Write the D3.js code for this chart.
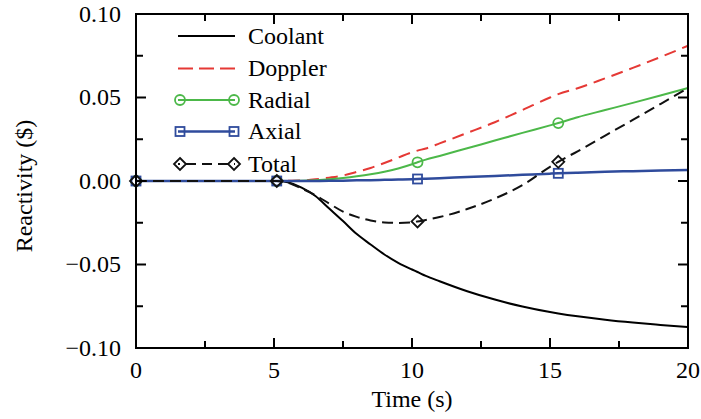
<!DOCTYPE html>
<html>
<head>
<meta charset="utf-8">
<script src="https://cdn.jsdelivr.net/npm/d3@7"></script>
<style>
  body { margin: 0; background: #fff; }
  svg text { font-family: "Liberation Serif", "Times New Roman", serif; fill: #000; }
</style>
</head>
<body>
<div id="chart"></div>
<script>
// Data
const time = [0, 1, 2, 3, 4, 5, 5.1, 5.5, 6, 6.5, 7, 7.5, 8, 8.5, 9, 9.5, 10, 10.2, 10.5, 11, 12, 13, 14, 15, 15.3, 16, 17, 18, 19, 20];
const coolant = [0, 0, 0, 0, 0, 0, 0, -0.0008, -0.004, -0.009, -0.0165, -0.024, -0.0318, -0.038, -0.044, -0.049, -0.053, -0.0545, -0.0568, -0.060, -0.066, -0.071, -0.0752, -0.0785, -0.0793, -0.081, -0.0831, -0.0848, -0.0862, -0.0875];
const doppler = [0, 0, 0, 0, 0, 0, 0, 0.0001, 0.0003, 0.001, 0.002, 0.0033, 0.0055, 0.0078, 0.0108, 0.014, 0.0172, 0.0182, 0.0195, 0.0225, 0.0288, 0.0352, 0.0425, 0.050, 0.052, 0.0555, 0.0615, 0.0677, 0.0742, 0.081];
const radial = [0, 0, 0, 0, 0, 0, 0, 0, 0.0002, 0.0005, 0.001, 0.0018, 0.0028, 0.004, 0.0055, 0.0075, 0.010, 0.0112, 0.0128, 0.015, 0.0196, 0.0242, 0.0288, 0.0333, 0.0347, 0.0382, 0.0425, 0.0468, 0.0512, 0.0557];
const axial = [0, 0, 0, 0, 0, 0, 0, 0, 0, 0.00005, 0.0001, 0.0002, 0.0004, 0.0005, 0.0007, 0.0009, 0.0011, 0.0012, 0.0014, 0.0017, 0.0024, 0.003, 0.0037, 0.0044, 0.0046, 0.005, 0.0055, 0.0059, 0.0063, 0.0066];
const total = [0, 0, 0, 0, 0, 0, 0, -0.001, -0.0045, -0.0085, -0.0135, -0.0183, -0.0215, -0.0236, -0.0248, -0.0251, -0.0247, -0.0242, -0.0233, -0.0216, -0.0168, -0.0105, -0.0025, 0.0085, 0.0115, 0.0178, 0.0272, 0.0366, 0.0461, 0.0557];
const markerTimes = [0, 5.1, 10.2, 15.3];

const seriesNames = ["Coolant", "Doppler", "Radial", "Axial", "Total"];
const seriesValues = [coolant, doppler, radial, axial, total];

const xTicks = [0, 5, 10, 15, 20];
const xMinor = [2.5, 7.5, 12.5, 17.5];
const yTicks = [-0.10, -0.05, 0.00, 0.05, 0.10];
const yMinor = [-0.075, -0.025, 0.025, 0.075];

// Styles
const styles = {
    Coolant: { color: "#000", width: 2, dash: null, marker: null },
    Doppler: { color: "#e53935", width: 2, dash: "12,7", marker: null },
    Radial: { color: "#4cb849", width: 2, dash: null, marker: "circle" },
    Axial: { color: "#2f4b9c", width: 2.5, dash: null, marker: "square" },
    Total: { color: "#111", width: 2, dash: "11,6", marker: "diamond" }
};

const W = 701, H = 419;
const plot = { left: 136, right: 688, top: 14, bottom: 348 };

const svg = d3.select("#chart")
    .append("svg")
    .attr("width", W)
    .attr("height", H);

const x = d3.scaleLinear().domain([0, 20]).range([plot.left, plot.right]);
const y = d3.scaleLinear().domain([-0.1, 0.1]).range([plot.bottom, plot.top]);

// Lines
const line = d3.line()
    .x(d => x(d.t))
    .y(d => y(d.v))
    .curve(d3.curveMonotoneX);

function drawMarker(g, type, cx, cy, color) {
    if (type === "circle") {
        g.append("circle").attr("cx", cx).attr("cy", cy).attr("r", 5)
            .attr("fill", "none").attr("stroke", color).attr("stroke-width", 1.8);
    } else if (type === "square") {
        g.append("rect").attr("x", cx - 4.5).attr("y", cy - 4.5).attr("width", 9).attr("height", 9)
            .attr("fill", "none").attr("stroke", color).attr("stroke-width", 1.8);
    } else if (type === "diamond") {
        g.append("path").attr("d", `M${cx},${cy - 6}L${cx + 6},${cy}L${cx},${cy + 6}L${cx - 6},${cy}Z`)
            .attr("fill", "none").attr("stroke", color).attr("stroke-width", 1.8);
    }
}

seriesNames.forEach((name, i) => {
    const st = styles[name];
    const pts = time.map((t, j) => ({ t: t, v: seriesValues[i][j] }));
    const g = svg.append("g").attr("class", "series");
    g.append("path")
        .datum(pts)
        .attr("d", line)
        .attr("fill", "none")
        .attr("stroke", st.color)
        .attr("stroke-width", st.width)
        .attr("stroke-dasharray", st.dash);
    if (st.marker) {
        pts.filter(d => markerTimes.includes(d.t))
            .forEach(d => drawMarker(g, st.marker, x(d.t), y(d.v), st.color));
    }
});

// Frame and ticks
const axes = svg.append("g").attr("class", "axes");
axes.append("rect")
    .attr("x", plot.left).attr("y", plot.top)
    .attr("width", plot.right - plot.left).attr("height", plot.bottom - plot.top)
    .attr("fill", "none").attr("stroke", "#000").attr("stroke-width", 2);

const major = 10, minor = 7;
[[xTicks, major], [xMinor, minor]].forEach(([ticks, len]) => {
    ticks.forEach(t => {
        axes.append("line").attr("x1", x(t)).attr("x2", x(t)).attr("y1", plot.bottom).attr("y2", plot.bottom - len)
            .attr("stroke", "#000").attr("stroke-width", 2);
        axes.append("line").attr("x1", x(t)).attr("x2", x(t)).attr("y1", plot.top).attr("y2", plot.top + len)
            .attr("stroke", "#000").attr("stroke-width", 2);
    });
});
[[yTicks, major], [yMinor, minor]].forEach(([ticks, len]) => {
    ticks.forEach(t => {
        axes.append("line").attr("x1", plot.left).attr("x2", plot.left + len).attr("y1", y(t)).attr("y2", y(t))
            .attr("stroke", "#000").attr("stroke-width", 2);
        axes.append("line").attr("x1", plot.right).attr("x2", plot.right - len).attr("y1", y(t)).attr("y2", y(t))
            .attr("stroke", "#000").attr("stroke-width", 2);
    });
});

// Tick labels
svg.selectAll(".xlab")
    .data(xTicks)
    .enter()
    .append("text")
    .attr("x", d => x(d))
    .attr("y", 378)
    .attr("text-anchor", "middle")
    .style("font-size", "24px")
    .text(d => d);

svg.selectAll(".ylab")
    .data(yTicks)
    .enter()
    .append("text")
    .attr("x", 121)
    .attr("y", d => y(d))
    .attr("dy", "0.33em")
    .attr("text-anchor", "end")
    .style("font-size", "24px")
    .text(d => d3.format(".2f")(d));

// Axis titles
svg.append("text")
    .attr("x", x(10))
    .attr("y", 407)
    .attr("text-anchor", "middle")
    .style("font-size", "24px")
    .text("Time (s)");

svg.append("text")
    .attr("transform", `translate(32, ${(plot.top + plot.bottom) / 2 + 5}) rotate(-90)`)
    .attr("text-anchor", "middle")
    .style("font-size", "24px")
    .text("Reactivity ($)");

// Legend
const legend = svg.append("g").attr("class", "legend");
const legendRowY = [36, 68.5, 100, 131.5, 164];
seriesNames.forEach((name, i) => {
    const st = styles[name];
    const ly = legendRowY[i];
    legend.append("line")
        .attr("x1", 178).attr("x2", 235).attr("y1", ly).attr("y2", ly)
        .attr("stroke", st.color)
        .attr("stroke-width", st.width)
        .attr("stroke-dasharray", name === "Doppler" ? "15,6" : name === "Total" ? "10,6" : null)
        .attr("stroke-dashoffset", name === "Total" ? -8 : 0);
    if (st.marker) {
        drawMarker(legend, st.marker, 180, ly, st.color);
        drawMarker(legend, st.marker, 234, ly, st.color);
    }
    legend.append("text")
        .attr("x", 248)
        .attr("y", ly)
        .attr("dy", "0.33em")
        .style("font-size", "24px")
        .text(name);
});
</script>
</body>
</html>
